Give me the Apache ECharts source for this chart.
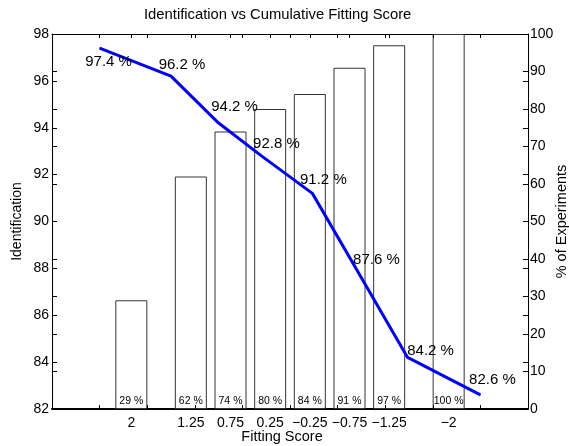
<!DOCTYPE html>
<html>
<head>
<meta charset="utf-8">
<script src="https://cdn.jsdelivr.net/npm/echarts@6/dist/echarts.min.js"></script>
<style>
  html, body { margin: 0; padding: 0; background: #fff; }
  #main { width: 569px; height: 446px; }
</style>
</head>
<body>
<div id="main"></div>
<script>
// bar positions (fitting score) and % of experiments
var scoreLabels = [2, 1.25, 0.75, 0.25, -0.25, -0.75, -1.25, -2];
var experimentPct = [29, 62, 74, 80, 84, 91, 97, 100];
// identification line, on its own evenly spaced x axis
var identPos = [0, 1.5, 2.5, 3.4, 4.47, 5.5, 6.47, 8];
var identification = [97.4, 96.2, 94.2, 92.8, 91.2, 87.6, 84.2, 82.6];
// where each percent text sits relative to its point
var labelOffsets = [[9, 14], [11, -11], [16, -16], [15, -12], [11, -14], [15, -18], [23, -7], [12, -15]];

var font = 'Liberation Sans, Arial, Helvetica, sans-serif';
var black = '#000';

function minus(v) {
    return String(v).replace('-', '\u2212');
}

var chart = echarts.init(document.getElementById('main'));
chart.setOption({
    animation: false,
    textStyle: { fontFamily: font, color: black },
    title: {
        text: 'Identification vs Cumulative Fitting Score',
        left: 144,
        top: 7,
        padding: 0,
        textStyle: { fontSize: 14.8, fontWeight: 'normal', color: black, fontFamily: font }
    },
    grid: { left: 52, right: 41, top: 34, bottom: 37, containLabel: false, outerBoundsMode: 'none' },
    xAxis: [{
        // bar axis, labels at bottom
        type: 'value', min: -3, max: 3, inverse: true, position: 'bottom',
        axisLine: { show: true, onZero: false, lineStyle: { color: black, width: 2 } },
        axisTick: { show: false },
        axisLabel: {
            customValues: scoreLabels, formatter: minus,
            fontSize: 14, color: black, margin: 7, fontFamily: font
        },
        splitLine: { show: false },
        name: 'Fitting Score', nameLocation: 'middle', nameGap: 20, nameMoveOverlap: false,
        nameTextStyle: { fontSize: 14.5, color: black, fontFamily: font, padding: [0, 16, 0, 0] }
    }, {
        // bar axis ticks at top
        type: 'value', min: -3, max: 3, inverse: true, position: 'top',
        axisLine: { show: true, onZero: false, lineStyle: { color: black, width: 1 } },
        axisTick: { show: true, inside: true, length: 4, customValues: scoreLabels, lineStyle: { color: black } },
        axisLabel: { show: false },
        splitLine: { show: false }
    }, {
        // line axis, top ticks
        type: 'value', min: -1, max: 9, interval: 1, position: 'top', z: 3,
        axisLine: { show: false, onZero: false },
        axisTick: { show: true, inside: true, length: 4, lineStyle: { color: black } },
        axisLabel: { show: false },
        splitLine: { show: false }
    }, {
        // line axis, bottom ticks
        type: 'value', min: -1, max: 9, interval: 1, position: 'bottom', z: 3,
        axisLine: { show: false, onZero: false },
        axisTick: { show: true, inside: true, length: 4, lineStyle: { color: black } },
        axisLabel: { show: false },
        splitLine: { show: false }
    }],
    yAxis: [{
        type: 'value', min: 82, max: 98, interval: 2, position: 'left',
        axisLine: { show: true, onZero: false, lineStyle: { color: black, width: 1 } },
        axisTick: { show: true, inside: true, length: 5, lineStyle: { color: black } },
        axisLabel: { fontSize: 14, color: black, margin: 3, fontFamily: font },
        splitLine: { show: false },
        name: 'Identification', nameLocation: 'middle', nameGap: 28, nameMoveOverlap: false,
        nameTextStyle: { fontSize: 14, color: black, fontFamily: font }
    }, {
        type: 'value', min: 0, max: 100, interval: 10, position: 'right',
        axisLine: { show: true, onZero: false, lineStyle: { color: black, width: 1 } },
        axisTick: { show: true, inside: true, length: 5, lineStyle: { color: black } },
        axisLabel: { fontSize: 14, color: black, margin: 2, fontFamily: font },
        splitLine: { show: false },
        name: '% of Experiments', nameLocation: 'middle', nameGap: 26, nameMoveOverlap: false,
        nameTextStyle: { fontSize: 14.5, color: black, fontFamily: font }
    }, {
        // left scale ticks mirrored on the right
        type: 'value', min: 82, max: 98, interval: 2, position: 'right',
        axisLine: { show: false, onZero: false },
        axisTick: { show: true, inside: true, length: 5, lineStyle: { color: black } },
        axisLabel: { show: false },
        splitLine: { show: false }
    }, {
        // right scale ticks mirrored on the left
        type: 'value', min: 0, max: 100, interval: 10, position: 'left',
        axisLine: { show: false, onZero: false },
        axisTick: { show: true, inside: true, length: 5, lineStyle: { color: black } },
        axisLabel: { show: false },
        splitLine: { show: false }
    }],
    series: [{
        type: 'bar',
        xAxisIndex: 0,
        yAxisIndex: 1,
        barWidth: 32,
        data: scoreLabels.map(function (s, i) { return [s, experimentPct[i]]; }),
        itemStyle: { color: '#fff', borderColor: '#333', borderWidth: 1 },
        label: {
            show: true, position: 'insideBottom', distance: 2,
            fontSize: 10.5, color: black, fontFamily: font,
            formatter: function (p) { return p.value[1] + ' %'; }
        }
    }, {
        type: 'line',
        xAxisIndex: 2,
        yAxisIndex: 0,
        data: identPos.map(function (x, i) {
            return {
                value: [x, identification[i]],
                label: { offset: labelOffsets[i] }
            };
        }),
        symbol: 'circle',
        symbolSize: 1,
        itemStyle: { color: '#0000ff' },
        lineStyle: { color: '#0000ff', width: 3 },
        label: {
            show: true, position: 'inside',
            fontSize: 15, color: black, fontFamily: font,
            formatter: function (p) { return p.value[1] + ' %'; }
        }
    }]
});
</script>
</body>
</html>
